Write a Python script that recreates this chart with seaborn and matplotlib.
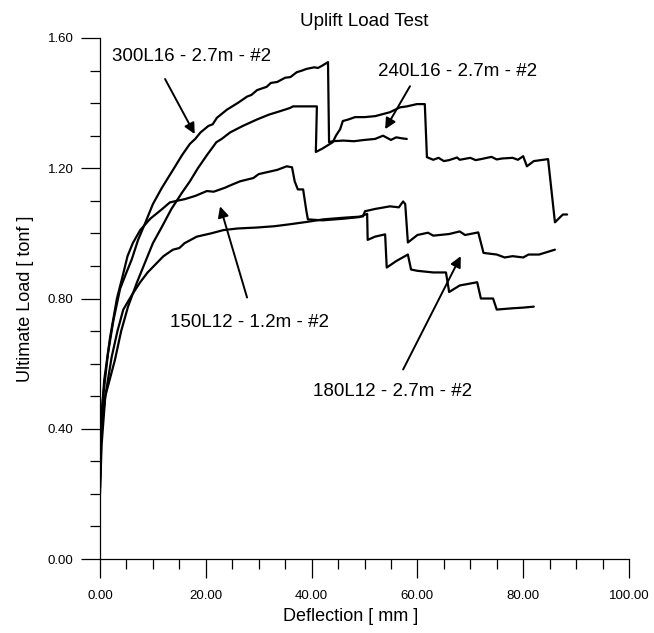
import matplotlib
matplotlib.use("Agg")
import matplotlib.pyplot as plt
import seaborn as sns
import pandas as pd

# ---- data (Deflection [mm], Load [tonf]) ----
c300_x = [0.0, 0.2, 0.6, 1.5, 2.5, 3.8, 5.0, 6.0, 7.2, 8.5, 10.0, 11.7, 13.8, 15.5, 17.0,
          18.0, 19.0, 20.5, 21.3, 22.1, 24.0, 25.0, 26.0, 27.8, 28.6, 29.7, 31.5, 32.3, 33.5,
          35.0, 36.0, 37.2, 38.2, 39.0, 40.5, 41.2, 42.0, 43.1, 43.3, 44.0, 46.0, 48.0, 50.0,
          52.0, 53.5, 55.0, 56.0, 57.0, 58.0]
c300_y = [0.22, 0.42, 0.50, 0.63, 0.73, 0.83, 0.88, 0.92, 0.98, 1.03, 1.09, 1.14, 1.195, 1.24, 1.275,
          1.29, 1.31, 1.33, 1.335, 1.355, 1.38, 1.39, 1.40, 1.42, 1.425, 1.44, 1.45, 1.462, 1.465,
          1.478, 1.48, 1.495, 1.50, 1.505, 1.51, 1.508, 1.515, 1.526, 1.28, 1.283, 1.285, 1.283, 1.287,
          1.29, 1.30, 1.287, 1.295, 1.292, 1.29]

c240_x = [0.0, 0.3, 1.0, 2.8, 4.0, 5.3, 7.0, 8.5, 10.0, 11.7, 13.5, 15.5, 17.0, 18.5, 20.2,
          22.0, 23.0, 24.6, 27.0, 29.7, 32.0, 34.0, 35.9, 36.5, 38.5, 41.0, 40.8, 42.0, 44.0, 44.6,
          45.4, 45.9, 47.0, 48.2, 50.0, 52.0, 54.8, 56.7, 58.0, 59.9, 61.4, 61.8, 63.0, 64.0, 65.0,
          66.0, 67.5, 68.0, 70.0, 71.0, 72.0, 74.0, 75.0, 76.0, 78.0, 79.0, 80.0, 80.7, 82.0, 84.7,
          86.0, 87.5, 88.3]
c240_y = [0.24, 0.40, 0.50, 0.61, 0.70, 0.775, 0.85, 0.91, 0.97, 1.02, 1.075, 1.125, 1.16, 1.20, 1.24,
          1.28, 1.29, 1.31, 1.33, 1.35, 1.365, 1.375, 1.385, 1.39, 1.39, 1.39, 1.25, 1.26, 1.28, 1.30,
          1.32, 1.345, 1.35, 1.357, 1.357, 1.36, 1.372, 1.387, 1.39, 1.397, 1.397, 1.234, 1.226, 1.232, 1.222,
          1.225, 1.233, 1.226, 1.232, 1.225, 1.228, 1.235, 1.227, 1.23, 1.232, 1.226, 1.237, 1.206, 1.222, 1.228,
          1.034, 1.058, 1.058]

c150_x = [0.0, 0.2, 0.8, 1.9, 3.2, 4.3, 5.2, 6.2, 7.6, 9.5, 11.7, 13.2, 14.5, 16.0, 18.0, 20.2,
          21.5, 23.6, 25.0, 26.5, 29.0, 30.0, 31.6, 33.5, 35.3, 36.3, 36.8, 37.4, 38.4, 39.0, 39.3,
          42.0, 46.0, 49.0, 50.5, 50.6, 52.0, 53.9, 54.2, 56.0, 58.2, 58.8, 60.0, 63.0, 65.4, 66.0,
          68.0, 71.3, 72.0, 74.3, 75.0, 78.0, 80.0, 82.0]
c150_y = [0.25, 0.42, 0.55, 0.68, 0.80, 0.87, 0.93, 0.97, 1.01, 1.045, 1.074, 1.095, 1.10, 1.105, 1.115, 1.13,
          1.128, 1.14, 1.15, 1.16, 1.17, 1.182, 1.188, 1.195, 1.206, 1.203, 1.16, 1.135, 1.135, 1.07, 1.043,
          1.04, 1.045, 1.05, 1.06, 0.98, 0.99, 0.997, 0.895, 0.915, 0.935, 0.889, 0.885, 0.88, 0.88, 0.82,
          0.84, 0.85, 0.80, 0.80, 0.766, 0.77, 0.772, 0.775]

c180_x = [0.0, 0.3, 1.0, 2.2, 3.3, 4.4, 6.0, 7.6, 9.0, 10.8, 12.0, 13.8, 15.0, 16.0, 18.3, 21.0,
          23.3, 26.0, 29.7, 33.0, 35.9, 39.0, 42.2, 46.0, 49.7, 50.1, 52.0, 54.8, 56.5, 57.3, 57.7,
          58.2, 60.0, 62.0, 63.0, 66.0, 68.0, 69.0, 71.5, 72.5, 75.0, 76.5, 78.0, 80.0, 81.0, 83.0, 86.0]
c180_y = [0.20, 0.35, 0.50, 0.62, 0.70, 0.766, 0.81, 0.85, 0.88, 0.91, 0.93, 0.95, 0.955, 0.97, 0.99, 1.00,
          1.01, 1.015, 1.018, 1.022, 1.028, 1.035, 1.043, 1.048, 1.052, 1.068, 1.075, 1.083, 1.08, 1.098, 1.09,
          0.972, 0.995, 1.002, 0.993, 0.998, 1.006, 0.995, 1.003, 0.94, 0.935, 0.926, 0.93, 0.926, 0.935, 0.935, 0.95]

labels = ["300L16 - 2.7m - #2", "240L16 - 2.7m - #2", "150L12 - 1.2m - #2", "180L12 - 2.7m - #2"]
x_ticks = [0, 20, 40, 60, 80, 100]
y_ticks = [0.0, 0.4, 0.8, 1.2, 1.6]

# annotation text anchors and arrows (data coords)
ann_text = [(2.3, 1.542), (52.6, 1.498), (13.2, 0.726), (40.3, 0.514)]
ann_from = [(12.3, 1.474), (58.6, 1.452), (27.8, 0.803), (57.3, 0.582)]
ann_tip = [(17.9, 1.305), (53.9, 1.32), (22.7, 1.083), (68.2, 0.93)]

frames = []
for name, xs, ys in zip(labels, [c300_x, c240_x, c150_x, c180_x], [c300_y, c240_y, c150_y, c180_y]):
    frames.append(pd.DataFrame({"Deflection": xs, "Load": ys, "series": name}))
df = pd.concat(frames, ignore_index=True)

sns.set_style("ticks")
plt.rcParams["font.family"] = ["Liberation Sans", "DejaVu Sans"]
plt.rcParams["text.color"] = "black"
plt.rcParams["axes.labelcolor"] = "black"
plt.rcParams["xtick.color"] = "black"
plt.rcParams["ytick.color"] = "black"

fig = plt.figure(figsize=(6.54, 6.33), dpi=100)
ax = fig.add_axes([100 / 654, 1 - 559 / 633, 529 / 654, 521 / 633])

for name in labels:
    sub = df[df["series"] == name]
    sns.lineplot(data=sub, x="Deflection", y="Load", sort=False, estimator=None,
                 color="black", lw=1.6, ax=ax, legend=False)

ax.set_xlim(0, 100)
ax.set_ylim(0, 1.6)
ax.set_xticks(x_ticks)
ax.set_xticklabels([f"{v:.2f}" for v in x_ticks], fontsize=9.5)
ax.set_yticks(y_ticks)
ax.set_yticklabels([f"{v:.2f}" for v in y_ticks], fontsize=9.5)
ax.set_xticks([v for v in range(0, 101, 5) if v % 20 != 0], minor=True)
ax.set_yticks([i / 10 for i in range(0, 17) if i % 4 != 0], minor=True)
ax.tick_params(axis="both", which="major", direction="out", length=14, width=0.9,
               color="black", pad=5)
ax.tick_params(axis="both", which="minor", direction="out", length=7, width=0.9, color="black")
ax.tick_params(axis="x", which="major", pad=8)

for s in ["top", "right"]:
    ax.spines[s].set_visible(False)
for s in ["left", "bottom"]:
    ax.spines[s].set_linewidth(0.9)
    ax.spines[s].set_color("black")

ax.set_xlabel("Deflection [ mm ]", fontsize=13, color="black")
ax.set_ylabel("Ultimate Load [ tonf ]", fontsize=13, color="black", labelpad=10)
ax.xaxis.set_label_coords(0.473, -0.095)
ax.set_title("Uplift Load Test", fontsize=13.5, pad=9, color="black")

for txt, p_text, p_from, p_tip in zip(labels, ann_text, ann_from, ann_tip):
    ax.text(p_text[0], p_text[1], txt, fontsize=13.5, ha="left", va="center", color="black")
    ax.annotate("", xy=p_tip, xytext=p_from,
                arrowprops=dict(arrowstyle="-|>", color="black", lw=1.4,
                                mutation_scale=16, shrinkA=0, shrinkB=0))

fig.savefig("out.png", dpi=100)
